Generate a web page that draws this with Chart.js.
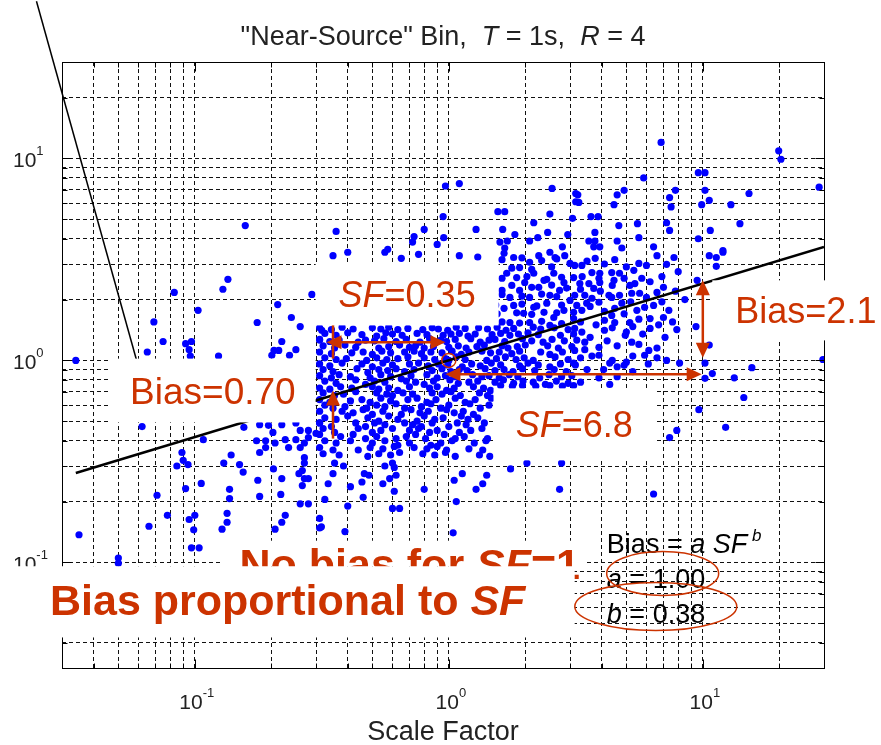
<!DOCTYPE html>
<html lang="en">
<head>
<meta charset="UTF-8" />
<title>Near-Source Bin: Bias vs Scale Factor</title>
<script src="https://cdn.jsdelivr.net/npm/chart.js"></script>
<style>
  * { margin: 0; padding: 0; box-sizing: border-box; }
  body { background: #fff; width: 881px; height: 745px; overflow: hidden; }
  canvas { display: block; }
</style>
</head>
<body>
<canvas id="biasChart" width="881" height="745"></canvas>
<script>
// both axes are log, 0.03 .. 30
const axisMin = 0.03;
const axisMax = 30;
const gridTicks = [0.04, 0.05, 0.06, 0.07, 0.08, 0.09, 0.1, 0.2, 0.3, 0.4, 0.5, 0.6, 0.7, 0.8, 0.9,
                   1, 2, 3, 4, 5, 6, 7, 8, 9, 10, 20];
const labelTicks = [0.1, 1, 10];
const labelExponents = ['-1', '0', '1'];

// fitted line Bias = a SF^b, end points
const fitSF = [0.034, 30];
const fitBias = [0.277, 3.64];

// scatter points [SF, Bias]
const pointsLeft = [
  [0.034,1.0],[0.035,0.137],[0.050,0.105],[0.050,0.099],[0.065,1.10],[0.069,1.55],[0.075,1.24],
  [0.083,2.17],[0.092,1.21],[0.097,1.24],[0.095,1.13],[0.096,1.05],[0.103,1.77],[0.062,0.47],
  [0.089,0.35],[0.090,0.32],[0.085,0.30],[0.094,0.305],[0.092,0.232],[0.071,0.215],[0.078,0.171],
  [0.066,0.151],[0.095,0.163],[0.100,0.171],[0.099,0.145],[0.097,0.118],[0.104,0.118],[0.158,4.65]
];
const pointsMidLeft = [
  [0.135,2.52],[0.129,2.25],[0.289,2.12],[0.212,1.89],[0.176,1.54],[0.24,1.63],[0.26,1.47],
  [0.316,1.41],[0.22,1.24],[0.205,1.12],[0.214,1.12],[0.201,1.06],[0.236,1.06],[0.25,1.13],
  [0.31,1.26],[0.124,1.05],[0.106,0.246],[0.13,0.31],[0.156,0.466],[0.18,0.48],[0.195,0.477],
  [0.22,0.48],[0.25,0.49],[0.203,0.44],[0.175,0.40],[0.19,0.40],[0.207,0.39],[0.227,0.405],
  [0.25,0.405],[0.26,0.45],[0.28,0.45],[0.28,0.415],[0.27,0.39],[0.30,0.435],[0.31,0.49],
  [0.234,0.37],[0.26,0.37],[0.18,0.35],[0.19,0.37],[0.139,0.34],[0.108,0.405],[0.27,0.33],
  [0.15,0.305],[0.155,0.28],[0.137,0.23],[0.137,0.207],[0.134,0.175],[0.134,0.158],[0.128,0.146],
  [0.177,0.255],[0.18,0.212],[0.204,0.29],[0.22,0.26],[0.218,0.217],[0.227,0.171],[0.22,0.158],
  [0.207,0.146],[0.257,0.275],[0.265,0.285],[0.27,0.31],[0.27,0.26],[0.28,0.26],[0.265,0.24],
  [0.26,0.195],[0.28,0.195],[0.31,0.165],[0.31,0.148]
];
const pointsLow = [
  [0.315,0.15],[0.39,0.142],[0.325,0.205],[0.335,0.245],[0.35,0.275],[0.355,0.31],[0.385,0.30],
  [0.41,0.237],[0.40,0.19],[0.455,0.25],[0.46,0.21],[0.465,0.275],[0.485,0.27],[0.55,0.245],
  [0.56,0.30],[0.60,0.31],[0.61,0.295],[0.585,0.26],[0.62,0.27],[0.61,0.225],[0.60,0.185],
  [0.64,0.185],[0.80,0.23],[1.05,0.255],[1.13,0.275],[1.04,0.14],[1.07,0.20],[1.28,0.23],
  [1.36,0.245],[1.41,0.27],[1.75,0.29],[2.03,0.31],[2.78,0.31],[2.73,0.23],[6.4,0.218]
];
const pointsUpper = [
  [0.36,4.35],[0.575,3.55],[0.73,4.1],[0.72,3.85],[0.80,4.45],[0.95,5.15],[0.97,7.3],[1.1,7.5],
  [0.90,3.75],[0.955,4.05],[1.28,4.45],[1.56,5.45],[1.66,5.45],[1.63,4.45],[1.82,4.2],[1.59,3.85],
  [1.7,3.9],[1.66,3.6],[2.16,4.8],[2.5,5.3],[2.55,7.1],[2.08,3.9],[2.24,4.05],[2.45,4.3],[2.8,3.65],
  [2.94,4.2],[3.16,6.7],[3.16,6.1],[3.07,5.05],
  [6.85,12.0],[19.9,10.9],[20.3,9.9],[5.85,8.0],[9.6,8.5],[10.2,8.5],[3.22,6.6],[3.25,6.05],
  [4.9,6.95],[4.6,6.6],[4.47,5.9],[7.8,6.95],[7.4,6.4],[7.5,5.75],[10.2,6.95],[9.9,5.9],[10.6,6.2],
  [12.9,5.9],[15.2,6.7],[28.7,7.2],[3.63,5.15],[3.87,5.15],[4.67,4.65],[5.53,4.75],[7.2,4.8],
  [7.4,4.4],[10.7,4.4],[14.0,4.75],[9.6,4.0],[3.76,4.3],[3.56,3.9],[3.76,3.9],[3.72,3.65],
  [3.93,3.65],[4.6,3.9],[4.8,3.6],[5.6,4.05],[6.4,3.65],[12,3.5],
  [0.35,3.3],[0.40,3.43],[0.56,3.43],[0.65,3.2],[0.76,3.35],[1.1,3.3],[1.3,3.25],
  [1.65,3.39],[1.8,3.23],[1.9,2.88],[2.08,3.06],[2.26,3.3],[2.5,3.43],[2.62,3.23],[2.86,3.3],
  [3.0,3.02],[1.69,2.7],[1.85,2.57],[1.99,2.43],[2.16,2.7],[2.37,2.49],[2.59,2.7],[2.84,2.43],
  [3.1,2.57],[1.62,2.22],[1.74,2.05],[1.9,2.22],[2.08,2.05],[2.26,2.3],[2.5,2.1],[2.73,2.22],
  [3.0,1.98],[1.65,1.81],[1.8,1.87],[1.97,1.71],[2.16,1.83],[2.37,1.73],[2.59,1.63],[2.84,1.77],
  [3.1,1.61],[1.74,1.54],[2.08,1.54],[2.5,1.49],
  [1.62,3.15],[1.94,3.22],[2.32,3.12],[2.66,3.18],[1.77,2.86],[2.12,2.82],[2.54,2.9],
  [1.62,2.55],[2.03,2.6],[2.43,2.52],[2.78,2.58],[1.77,2.35],[2.12,2.3],[2.54,2.36],
  [2.91,2.28],[1.62,2.12],[1.94,2.08],[2.32,2.13],[2.66,2.07],[1.53,1.88],
  [1.94,1.9],[2.22,1.86],[2.43,1.92],[2.78,1.88],[1.55,1.7],[1.85,1.72],[2.12,1.69],[2.66,1.72],
  [1.62,1.55],[1.9,1.53],[2.32,1.56],[2.78,1.52]
];
const pointsRight = [
  [3.77,3.2],[3.34,2.95],[3.13,2.95],[3.66,2.72],[3.93,2.7],[4.38,2.72],[4.7,2.7],[5.35,2.79],
  [5.6,3.02],[5.75,2.55],[6.6,3.3],[7.2,2.99],[7.7,3.23],[10.6,3.3],[11.3,3.23],[11.3,2.92],
  [12,3.43],[3.28,2.4],[3.56,2.4],[3.93,2.43],[4.47,2.49],[5.16,2.35],[3.13,2.1],[3.43,2.1],
  [3.72,2.27],[3.66,2.03],[4.27,2.1],[4.38,2.05],[5.25,2.15],[5.64,2.15],[6.6,2.17],[3.19,1.87],
  [3.49,1.92],[3.9,1.94],[4.8,1.92],[4.5,1.81],[5.5,1.77],[5.9,1.83],[6.4,1.87],[8.5,2.0],
  [9.5,2.49],[3.1,1.73],[3.34,1.77],[4.1,1.58],[4.38,1.67],[4.5,1.54],[5.16,1.54],[6.2,1.61],
  [7.0,1.63],[7.35,1.77],[3.13,1.44],[3.34,1.38],[4.1,1.41],[5.0,1.38],[6.2,1.44],[7.9,1.42],
  [9.4,1.47],[3.19,1.26],[3.43,1.23],[3.9,1.16],[4.95,1.33],[5.25,1.23],[6.13,1.12],[5.9,1.06],
  [6.6,1.03],[10.6,1.19],[3.13,1.12],[3.43,1.13],[3.66,1.05],[3.1,0.97],[4.07,0.90],[4.3,0.97],
  [4.6,0.93],[4.9,0.945],[5.0,0.98],[4.6,0.83],[8.1,0.97],[10.2,0.97],[10.9,0.86],[10.2,0.815],
  [13.3,0.82],[15.6,0.92],[29.7,1.01],[14.5,0.655],[9.65,0.57],[12.3,0.466],[7.9,0.45],[7.4,0.415],
  [3.5,3.1],[4.1,3.0],[4.5,3.15],[5.0,2.9],[6.0,2.95],[6.9,2.6],[8.0,2.75],[3.35,2.6],[3.9,2.55],
  [4.4,2.35],[4.9,2.55],[5.4,2.4],[6.2,2.45],[7.0,2.3],[7.8,2.2],[3.3,2.25],[3.95,2.2],[4.7,2.1],
  [5.2,1.95],[6.0,2.05],[6.9,1.95],[3.6,1.85],[4.1,1.75],[4.9,1.7],[5.6,1.6],[6.7,1.5],[7.6,1.55],
  [3.3,1.55],[3.8,1.5],[4.4,1.45],[5.3,1.47],[5.8,1.35],[7.1,1.3],[3.6,1.3],[4.2,1.25],[4.6,1.18],
  [5.6,1.2],[6.6,1.15],[3.3,1.03],[3.9,1.06],[4.4,1.0],[5.3,1.05],[6.1,0.96],[7.2,1.0],[3.5,0.9],
  [3.9,0.82],[5.3,0.88],[3.3,0.78],[4.3,0.76]
];
// the crowded middle of the cloud (below the SF=0.35 label), scanned row by row
const pointsDense = [
  [0.31,1.45],[0.345,1.42],[0.38,1.46],[0.42,1.43],[0.5,1.45],[0.54,1.43],[0.58,1.46],
  [0.63,1.42],[0.69,1.44],[0.79,1.42],[0.86,1.45],[0.91,1.43],[0.99,1.41],[1.07,1.46],
  [1.16,1.44],[1.31,1.45],[1.42,1.43],[1.55,1.46],[1.68,1.41],[1.8,1.44],
  [2.15,1.46],[2.3,1.43],[2.6,1.45],[2.95,1.42],
  [0.325,1.36],[0.36,1.33],[0.4,1.37],[0.455,1.34],[0.52,1.32],[0.565,1.37],[0.6,1.35],
  [0.655,1.33],[0.75,1.36],[0.82,1.34],[0.95,1.33],[1.02,1.35],[1.1,1.36],[1.19,1.32],
  [1.27,1.35],[1.48,1.34],[1.6,1.36],[1.74,1.33],[1.88,1.35],[2.05,1.37],[2.25,1.34],
  [2.75,1.33],[3.1,1.35],
  [0.31,1.27],[0.34,1.24],[0.37,1.26],[0.44,1.23],[0.47,1.26],[0.51,1.25],[0.555,1.28],
  [0.62,1.24],[0.68,1.27],[0.77,1.23],[0.84,1.28],[0.93,1.26],[0.98,1.24],[1.06,1.27],
  [1.22,1.28],[1.33,1.23],[1.44,1.26],[1.52,1.27],[1.66,1.24],[1.95,1.28],
  [2.12,1.25],[2.35,1.23],[2.55,1.27],[2.85,1.25],
  [0.32,1.18],[0.355,1.15],[0.39,1.19],[0.43,1.16],[0.53,1.15],[0.58,1.17],[0.64,1.19],
  [0.7,1.16],[0.74,1.18],[0.8,1.15],[0.87,1.17],[1.0,1.16],[1.09,1.18],[1.17,1.15],
  [1.29,1.17],[1.38,1.19],[1.62,1.18],[1.71,1.15],[1.86,1.17],[2.0,1.19],
  [2.45,1.18],[2.7,1.15],[3.05,1.17],
  [0.31,1.1],[0.345,1.08],[0.415,1.09],[0.46,1.1],[0.5,1.07],[0.545,1.11],[0.59,1.09],
  [0.67,1.1],[0.73,1.11],[0.78,1.08],[0.85,1.1],[0.94,1.09],[1.03,1.11],[1.12,1.07],
  [1.2,1.1],[1.35,1.11],[1.46,1.09],[1.58,1.1],[1.77,1.08],[1.9,1.11],
  [2.3,1.1],[2.5,1.07],[2.8,1.1],
  [0.325,1.03],[0.36,1.01],[0.395,1.02],[0.475,1.0],[0.52,1.03],[0.57,1.01],[0.63,1.02],
  [0.69,1.04],[0.8,1.03],[0.88,1.01],[0.97,1.02],[1.0,1.0],[1.07,1.04],[1.16,1.01],
  [1.41,1.0],[1.54,1.02],[1.67,1.04],[1.84,1.01],[1.98,1.03],[2.15,1.0],
  [2.62,1.04],[2.95,1.01],
  [0.31,0.96],[0.34,0.94],[0.38,0.97],[0.455,0.96],[0.5,0.93],[0.55,0.97],[0.6,0.95],
  [0.7,0.96],[0.76,0.97],[0.83,0.94],[0.91,0.96],[0.99,0.95],[1.13,0.93],
  [1.23,0.96],[1.33,0.94],[1.47,0.97],[1.6,0.95],[1.9,0.94],[2.05,0.97],[2.25,0.95],
  [2.5,0.93],[2.75,0.96],[3.15,0.95],
  [0.32,0.9],[0.35,0.88],[0.435,0.91],[0.48,0.87],[0.53,0.9],[0.575,0.89],[0.62,0.91],
  [0.67,0.88],[0.73,0.9],[0.86,0.89],[0.94,0.91],[1.02,0.88],[1.1,0.9],[1.18,0.89],
  [1.39,0.91],[1.52,0.89],[1.65,0.9],[1.79,0.88],[1.95,0.91],[2.18,0.89],
  [2.6,0.9],[2.9,0.88],
  [0.31,0.84],[0.345,0.82],[0.37,0.85],[0.41,0.83],[0.49,0.82],[0.54,0.85],[0.59,0.83],
  [0.65,0.81],[0.71,0.84],[0.82,0.85],[0.9,0.82],[0.97,0.84],[1.06,0.83],
  [1.24,0.85],[1.35,0.83],[1.44,0.84],[1.58,0.82],[1.73,0.85],[1.87,0.83],[2.28,0.82],
  [2.48,0.85],[2.78,0.83],[3.05,0.84],
  [0.325,0.79],[0.36,0.77],[0.43,0.8],[0.47,0.76],[0.51,0.79],[0.56,0.78],
  [0.68,0.79],[0.74,0.78],[0.8,0.76],[0.87,0.79],[1.01,0.8],[1.09,0.77],[1.2,0.78],
  [1.3,0.79],[1.52,0.78],[1.64,0.8],[1.8,0.77],[1.96,0.79],[2.15,0.78],[2.4,0.76],
  [2.65,0.79],[2.95,0.77],
  [0.31,0.73],[0.34,0.72],[0.375,0.74],[0.415,0.73],[0.5,0.74],[0.53,0.72],[0.58,0.73],
  [0.63,0.71],[0.7,0.74],[0.84,0.73],[0.9,0.74],[0.98,0.71],[1.05,0.73],
  [1.25,0.74],[1.37,0.73],[1.46,0.71],[1.6,0.75],[1.78,0.745],[1.95,0.75],[2.2,0.745],[2.5,0.75],
  [2.8,0.745],[3.1,0.75],
  [0.32,0.69],[0.355,0.67],[0.385,0.68],[0.43,0.7],[0.52,0.69],[0.57,0.68],[0.6,0.67],
  [0.66,0.69],[0.72,0.68],[0.86,0.69],[0.94,0.68],[1.02,0.7],[1.11,0.67],
  [1.32,0.69],[1.42,0.67],
  [0.31,0.64],[0.34,0.62],[0.41,0.63],[0.455,0.64],[0.49,0.62],[0.54,0.65],[0.59,0.63],
  [0.69,0.64],[0.75,0.65],[0.82,0.62],[0.89,0.64],[1.06,0.65],[1.16,0.62],
  [1.27,0.64],[1.47,0.65],
  [0.325,0.6],[0.35,0.58],[0.39,0.59],[0.475,0.58],[0.52,0.6],[0.56,0.59],[0.62,0.61],
  [0.67,0.58],[0.78,0.59],[0.85,0.61],[0.93,0.58],[1.0,0.6],[1.21,0.61],
  [1.33,0.58],[1.44,0.6],
  [0.31,0.56],[0.38,0.56],[0.42,0.55],[0.46,0.57],[0.5,0.54],[0.55,0.56],
  [0.65,0.54],[0.71,0.57],[0.77,0.55],[0.83,0.56],[0.98,0.57],[1.05,0.55],[1.14,0.56],
  [1.25,0.54],
  [0.325,0.52],[0.36,0.51],[0.4,0.53],[0.48,0.52],[0.53,0.5],[0.58,0.53],[0.63,0.51],
  [0.75,0.5],[0.8,0.53],[0.88,0.51],[0.95,0.52],[1.12,0.53],[1.19,0.51],
  [1.3,0.52],
  [0.31,0.49],[0.345,0.47],[0.43,0.49],[0.47,0.47],[0.51,0.49],[0.56,0.48],
  [0.67,0.49],[0.72,0.48],[0.78,0.47],[0.86,0.49],[1.0,0.47],[1.08,0.49],[1.17,0.48],
  [1.38,0.49],
  [0.32,0.46],[0.355,0.44],[0.44,0.46],[0.5,0.44],[0.54,0.45],[0.6,0.46],
  [0.7,0.45],[0.76,0.46],[0.84,0.44],[0.9,0.45],[1.1,0.44],[1.22,0.45],[1.35,0.46],
  [0.31,0.43],[0.375,0.42],[0.42,0.43],[0.47,0.41],[0.52,0.42],[0.62,0.41],
  [0.68,0.42],[0.74,0.43],[0.81,0.41],[0.96,0.43],[1.06,0.41],[1.15,0.42],
  [1.42,0.41],
  [0.325,0.4],[0.36,0.39],[0.41,0.4],[0.5,0.39],[0.56,0.4],[0.63,0.38],[0.7,0.39],
  [0.85,0.38],[0.93,0.39],[1.03,0.4],[1.26,0.39],[1.4,0.4],
  [0.31,0.37],[0.35,0.36],[0.44,0.36],[0.49,0.37],[0.55,0.365],[0.61,0.375],
  [0.73,0.37],[0.82,0.365],[0.9,0.375],[0.98,0.36],[1.2,0.365],[1.36,0.36],
  [0.32,0.345],[0.37,0.34],[0.48,0.335],[0.53,0.345],[0.59,0.34],[0.64,0.35],
  [0.79,0.345],[0.88,0.34],[0.97,0.35],[1.06,0.335],[1.32,0.34],[1.45,0.335]
];

const SANS = '"Liberation Sans", Arial, Helvetica, sans-serif';
const RED = '#cc3300';

// draw a run of text pieces: [text, font, dy]
function drawRich(ctx, parts, x, y, align, color) {
  let total = 0;
  parts.forEach(p => { ctx.font = p[1]; total += ctx.measureText(p[0]).width; });
  let cx = align === 'center' ? x - total / 2 : (align === 'right' ? x - total : x);
  ctx.fillStyle = color;
  ctx.textAlign = 'left';
  ctx.textBaseline = 'alphabetic';
  parts.forEach(p => {
    ctx.font = p[1];
    ctx.fillText(p[0], cx, y + (p[2] || 0));
    cx += ctx.measureText(p[0]).width;
  });
}

function arrowHead(ctx, x1, y1, x2, y2) {
  const ang = Math.atan2(y2 - y1, x2 - x1), L = 15, W = 7;
  ctx.beginPath();
  ctx.moveTo(x2, y2);
  ctx.lineTo(x2 - L * Math.cos(ang) + W * Math.sin(ang), y2 - L * Math.sin(ang) - W * Math.cos(ang));
  ctx.lineTo(x2 - L * Math.cos(ang) - W * Math.sin(ang), y2 - L * Math.sin(ang) + W * Math.cos(ang));
  ctx.closePath();
  ctx.fill();
}

function arrow(ctx, x1, y1, x2, y2, startHead, endHead) {
  const ang = Math.atan2(y2 - y1, x2 - x1);
  const sx = startHead ? x1 + 8 * Math.cos(ang) : x1, sy = startHead ? y1 + 8 * Math.sin(ang) : y1;
  const ex = endHead ? x2 - 8 * Math.cos(ang) : x2, ey = endHead ? y2 - 8 * Math.sin(ang) : y2;
  ctx.beginPath(); ctx.moveTo(sx, sy); ctx.lineTo(ex, ey); ctx.stroke();
  if (endHead) arrowHead(ctx, x1, y1, x2, y2);
  if (startHead) arrowHead(ctx, x2, y2, x1, y1);
}

// slide overlays, placed in data coordinates
const whiteBoxes = [
  { sf: [0.299, 1.57], b: [3.06, 1.49] },     // SF=0.35
  { sf: [0.0464, 0.299], b: [1.02, 0.493] },  // Bias=0.70
  { sf: [1.50, 6.48], b: [0.727, 0.32] },     // SF=6.8
  { sf: [10.9, 60], b: [2.49, 1.256] }        // Bias=2.1
];

const overlayPlugin = {
  id: 'overlay',
  afterDraw(chart) {
    const { ctx, chartArea: a, scales: { x, y } } = chart;
    const px = v => x.getPixelForValue(v);
    const py = v => y.getPixelForValue(v);
    ctx.save();

    // axes box and inner ticks
    ctx.setLineDash([]);
    ctx.strokeStyle = '#000';
    ctx.lineWidth = 1;
    const L = Math.round(a.left) + 0.5, T = Math.round(a.top) + 0.5;
    const R = Math.round(a.right) + 0.5, B = Math.round(a.bottom) + 0.5;
    ctx.strokeRect(L, T, R - L, B - T);
    ctx.beginPath();
    gridTicks.forEach(v => {
      const len = labelTicks.includes(v) ? 9 : 5;
      const xx = Math.round(px(v)) + 0.5, yy = Math.round(py(v)) + 0.5;
      ctx.moveTo(xx, B); ctx.lineTo(xx, B - len);
      ctx.moveTo(xx, T); ctx.lineTo(xx, T + len);
      ctx.moveTo(L, yy); ctx.lineTo(L + len, yy);
      ctx.moveTo(R, yy); ctx.lineTo(R - len, yy);
    });
    ctx.stroke();

    // tick labels 10^n
    labelTicks.forEach((v, i) => {
      const e = labelExponents[i];
      drawRich(ctx, [['10', '21px ' + SANS], [e, '13px ' + SANS, -12]], px(v) + 2, 709, 'center', '#222');
      drawRich(ctx, [['10', '21px ' + SANS], [e, '13px ' + SANS, -12]], 13, py(v) + 9, 'left', '#222');
    });
    ctx.font = '27px ' + SANS;
    ctx.fillStyle = '#222';
    ctx.textAlign = 'center';
    ctx.fillText('Scale Factor', (a.left + a.right) / 2, 740);

    // title
    const tN = '27px ' + SANS, tI = 'italic 27px ' + SANS;
    drawRich(ctx, [['"Near-Source" Bin,  ', tN], ['T', tI], [' = 1s,  ', tN], ['R', tI], [' = 4', tN]],
      (a.left + a.right) / 2, 45, 'center', '#222');

    // stray pointer line from the slide
    ctx.strokeStyle = '#000';
    ctx.lineWidth = 1.5;
    ctx.beginPath();
    ctx.moveTo(px(0.0238), py(60));
    ctx.lineTo(px(0.062), py(0.8));
    ctx.stroke();

    // white label boxes
    ctx.fillStyle = '#fff';
    whiteBoxes.forEach(bx => {
      const x1 = px(bx.sf[0]), x2 = px(bx.sf[1]), y1 = py(bx.b[0]), y2 = py(bx.b[1]);
      ctx.fillRect(x1, y1, x2 - x1, y2 - y1);
    });

    const n36 = '36px ' + SANS, i36 = 'italic 36px ' + SANS;
    const mid = (b0, b1) => (py(b0) + py(b1)) / 2 + 13;
    const cen = (s0, s1) => (px(s0) + px(s1)) / 2;
    drawRich(ctx, [['SF', i36], ['=0.35', n36]], cen(0.299, 1.57), mid(3.06, 1.49), 'center', RED);
    drawRich(ctx, [['Bias=0.70', '37px ' + SANS]], cen(0.0464, 0.299), mid(1.02, 0.493), 'center', RED);
    drawRich(ctx, [['SF', i36], ['=6.8', n36]], cen(1.50, 6.48), mid(0.727, 0.32), 'center', RED);
    drawRich(ctx, [['Bias=2.1', n36]], px(10.9) + 23, mid(2.49, 1.256), 'left', RED);

    // red arrows and the circle at SF=1
    ctx.strokeStyle = RED;
    ctx.fillStyle = RED;
    ctx.lineWidth = 2.5;
    arrow(ctx, px(0.33), py(1.23), px(0.97), py(1.23), true, true);
    arrow(ctx, px(0.35), py(1.49), px(0.35), py(1.02), false, false);
    arrow(ctx, px(0.35), py(0.41), px(0.35), py(0.71), false, true);
    arrow(ctx, px(0.97), py(0.853), px(9.9), py(0.853), true, true);
    arrow(ctx, px(10), py(2.49), px(10), py(1.03), true, true);
    ctx.lineWidth = 1.5;
    ctx.beginPath();
    ctx.arc(px(1), py(1), 7, 0, Math.PI * 2);
    ctx.stroke();

    // "No bias for SF=1" partly hidden under "Bias proportional to SF"
    const b43 = 'bold 43px ' + SANS, bi43 = 'bold italic 43px ' + SANS;
    ctx.fillStyle = '#fff';
    ctx.fillRect(px(0.128), py(0.128), px(3.43) - px(0.128), py(0.0957) - py(0.128));
    drawRich(ctx, [['No bias for ', b43], ['SF', bi43], ['=1', b43]], px(0.150), py(0.0832), 'left', RED);
    ctx.fillStyle = '#fff';
    ctx.fillRect(px(0.0175), py(0.0957), px(3.13) - px(0.0175), py(0.0425) - py(0.0957));
    drawRich(ctx, [['Bias proportional to ', b43], ['SF', bi43]], px(0.0269), py(0.0552), 'left', RED);

    // fit legend
    const n27 = '27px ' + SANS, i27 = 'italic 27px ' + SANS;
    drawRich(ctx, [['Bias = ', n27], ['a', i27], [' SF', i27], [' b', 'italic 17px ' + SANS, -12]], px(4.19), py(0.111), 'left', '#000');
    drawRich(ctx, [['a', i27], [' = 1.00', n27]], px(4.19), py(0.0743), 'left', '#000');
    drawRich(ctx, [['b', i27], [' = 0.38', n27]], px(4.19), py(0.0503), 'left', '#000');
    ctx.strokeStyle = RED;
    ctx.lineWidth = 1.5;
    ctx.beginPath();
    ctx.ellipse(px(6.95), py(0.0881), 56, 22, 0, 0, Math.PI * 2);
    ctx.stroke();
    ctx.beginPath();
    ctx.ellipse(px(6.53), py(0.0605), 81, 24, 0, 0, Math.PI * 2);
    ctx.stroke();

    ctx.restore();
  }
};

const logAxis = (fitSize) => ({
  type: 'logarithmic',
  min: axisMin,
  max: axisMax,
  afterBuildTicks: scale => {
    scale.ticks = gridTicks.map(v => ({ value: v, major: labelTicks.includes(v) }));
  },
  afterFit: fitSize,
  ticks: { display: false, autoSkip: false },
  grid: { color: '#111', lineWidth: 1, drawTicks: false },
  border: { display: false, dash: [4, 3] }
});

const allPoints = [].concat(pointsLeft, pointsMidLeft, pointsLow, pointsUpper, pointsRight, pointsDense)
  .map(p => ({ x: p[0], y: p[1] }));

new Chart(document.getElementById('biasChart').getContext('2d'), {
  type: 'scatter',
  data: {
    datasets: [
      {
        type: 'line',
        label: 'Bias = a SF^b',
        data: fitSF.map((s, i) => ({ x: s, y: fitBias[i] })),
        borderColor: '#000',
        borderWidth: 2.5,
        pointRadius: 0,
        fill: false
      },
      {
        label: 'records',
        data: allPoints,
        backgroundColor: '#0000ff',
        borderWidth: 0,
        pointRadius: 3.6,
        pointHoverRadius: 3.6
      }
    ]
  },
  options: {
    responsive: false,
    animation: false,
    events: [],
    layout: { padding: { top: 62, right: 57, left: 0, bottom: 0 } },
    plugins: { legend: { display: false }, tooltip: { enabled: false }, title: { display: false } },
    scales: {
      x: logAxis(s => { s.height = 77; }),
      y: logAxis(s => { s.width = 62; })
    }
  },
  plugins: [overlayPlugin]
});
</script>
</body>
</html>
